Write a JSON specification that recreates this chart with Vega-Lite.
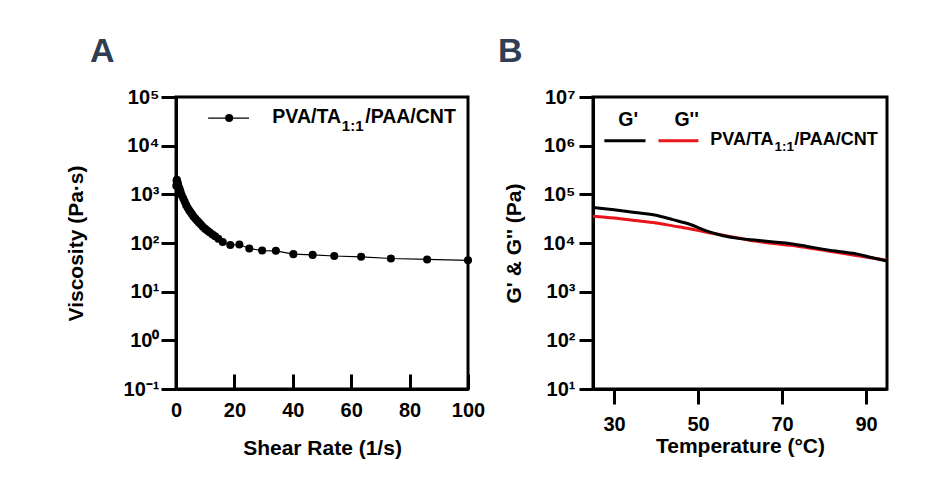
{
  "$schema": "https://vega.github.io/schema/vega-lite/v6.json",
  "background": "white",
  "padding": {"left": 63, "top": 33, "right": 10, "bottom": 10},
  "autosize": {"type": "pad"},
  "spacing": 125,
  "bounds": "flush",
  "config": {
    "font": "Liberation Sans",
    "view": {"stroke": "black", "strokeWidth": 3},
    "axis": {
      "grid": false,
      "domainColor": "black",
      "domainWidth": 3,
      "tickColor": "black",
      "tickWidth": 3,
      "labelFont": "Liberation Sans",
      "labelFontWeight": "bold",
      "labelFontSize": 20,
      "labelColor": "black",
      "titleFont": "Liberation Sans",
      "titleFontWeight": "bold",
      "titleFontSize": 21,
      "titleColor": "black"
    },
    "title": {"font": "Liberation Sans", "fontSize": 34, "fontWeight": "bold", "color": "#2f3e52", "anchor": "start", "frame": "group", "offset": 18}
  },
  "datasets": {
    "viscosity": [
      {"rate": 0.1, "visc": 1500}, {"rate": 0.2, "visc": 1900}, {"rate": 0.3, "visc": 2000}, {"rate": 0.5, "visc": 1800},
      {"rate": 0.7, "visc": 1600}, {"rate": 1.0, "visc": 1400}, {"rate": 1.3, "visc": 1250}, {"rate": 1.6, "visc": 1100},
      {"rate": 2.0, "visc": 950}, {"rate": 2.5, "visc": 820}, {"rate": 3.0, "visc": 700}, {"rate": 3.5, "visc": 600},
      {"rate": 4.0, "visc": 530}, {"rate": 4.5, "visc": 470}, {"rate": 5.0, "visc": 430}, {"rate": 5.5, "visc": 390},
      {"rate": 6.0, "visc": 350}, {"rate": 6.6, "visc": 320}, {"rate": 7.2, "visc": 290}, {"rate": 7.8, "visc": 265},
      {"rate": 8.5, "visc": 240}, {"rate": 9.2, "visc": 215}, {"rate": 10.0, "visc": 195}, {"rate": 10.8, "visc": 178},
      {"rate": 11.6, "visc": 165}, {"rate": 12.5, "visc": 150}, {"rate": 13.4, "visc": 138}, {"rate": 14.5, "visc": 122},
      {"rate": 16.0, "visc": 105}, {"rate": 18.6, "visc": 91}, {"rate": 21.7, "visc": 93}, {"rate": 25.1, "visc": 77},
      {"rate": 29.5, "visc": 70}, {"rate": 34.2, "visc": 69}, {"rate": 40.2, "visc": 59}, {"rate": 46.8, "visc": 57},
      {"rate": 54.2, "visc": 54}, {"rate": 63.4, "visc": 52}, {"rate": 73.6, "visc": 48}, {"rate": 86.0, "visc": 46},
      {"rate": 100, "visc": 44}
    ],
    "moduli": [
      {"temp": 25, "value": 53700, "series": "G'"}, {"temp": 30, "value": 48000, "series": "G'"},
      {"temp": 35, "value": 42500, "series": "G'"}, {"temp": 40, "value": 37200, "series": "G'"},
      {"temp": 44, "value": 30200, "series": "G'"}, {"temp": 48, "value": 24300, "series": "G'"},
      {"temp": 52, "value": 17700, "series": "G'"}, {"temp": 56, "value": 14100, "series": "G'"},
      {"temp": 60, "value": 12300, "series": "G'"}, {"temp": 64, "value": 11400, "series": "G'"},
      {"temp": 68, "value": 10500, "series": "G'"}, {"temp": 72, "value": 9700, "series": "G'"},
      {"temp": 76, "value": 8500, "series": "G'"}, {"temp": 80, "value": 7400, "series": "G'"},
      {"temp": 84, "value": 6600, "series": "G'"}, {"temp": 88, "value": 5900, "series": "G'"},
      {"temp": 91, "value": 5100, "series": "G'"}, {"temp": 95, "value": 4250, "series": "G'"},
      {"temp": 25, "value": 35600, "series": "G''"}, {"temp": 30, "value": 32500, "series": "G''"},
      {"temp": 35, "value": 29000, "series": "G''"}, {"temp": 40, "value": 25800, "series": "G''"},
      {"temp": 44, "value": 22500, "series": "G''"}, {"temp": 48, "value": 19600, "series": "G''"},
      {"temp": 52, "value": 16700, "series": "G''"}, {"temp": 56, "value": 14400, "series": "G''"},
      {"temp": 60, "value": 12500, "series": "G''"}, {"temp": 64, "value": 10800, "series": "G''"},
      {"temp": 68, "value": 9800, "series": "G''"}, {"temp": 72, "value": 8960, "series": "G''"},
      {"temp": 76, "value": 8000, "series": "G''"}, {"temp": 80, "value": 7080, "series": "G''"},
      {"temp": 84, "value": 6250, "series": "G''"}, {"temp": 88, "value": 5480, "series": "G''"},
      {"temp": 91, "value": 5000, "series": "G''"}, {"temp": 95, "value": 4400, "series": "G''"}
    ]
  },
  "hconcat": [
    {
      "title": {"text": "A", "dx": -86},
      "width": 292,
      "height": 292,
      "layer": [
        {
          "data": {"name": "viscosity"},
          "mark": {"type": "line", "color": "black", "strokeWidth": 1.2},
          "encoding": {
            "x": {
              "field": "rate", "type": "quantitative",
              "scale": {"domain": [0, 100], "nice": false, "zero": false},
              "axis": {"title": "Shear Rate (1/s)", "values": [0, 20, 40, 60, 80, 100], "tickSize": -15, "labelPadding": 26, "titlePadding": 17, "labelFlush": false}
            },
            "y": {
              "field": "visc", "type": "quantitative",
              "scale": {"type": "log", "domain": [0.1, 100000], "nice": false},
              "axis": {
                "title": "Viscosity (Pa·s)",
                "values": [0.1, 1, 10, 100, 1000, 10000, 100000],
                "tickSize": 15, "labelPadding": 2, "titlePadding": 37, "labelFlush": false,
                "labelExpr": "'10' + (round(log(datum.value)/LN10) < 0 ? '⁻' : '') + substring('⁰¹²³⁴⁵⁶⁷⁸⁹', abs(round(log(datum.value)/LN10)), abs(round(log(datum.value)/LN10)) + 1)"
              }
            }
          }
        },
        {
          "data": {"name": "viscosity"},
          "mark": {"type": "point", "filled": true, "color": "black", "opacity": 1, "size": 65},
          "encoding": {
            "x": {"field": "rate", "type": "quantitative"},
            "y": {"field": "visc", "type": "quantitative"}
          }
        },
        {
          "data": {"values": [{}]},
          "mark": {"type": "rule", "color": "black", "strokeWidth": 1.2},
          "encoding": {
            "x": {"datum": 11, "type": "quantitative"},
            "x2": {"datum": 25},
            "y": {"datum": 36900, "type": "quantitative"}
          }
        },
        {
          "data": {"values": [{}]},
          "mark": {"type": "point", "filled": true, "color": "black", "opacity": 1, "size": 65},
          "encoding": {
            "x": {"datum": 18.2, "type": "quantitative"},
            "y": {"datum": 36900, "type": "quantitative"}
          }
        },
        {
          "data": {"values": [{}]},
          "mark": {"type": "text", "text": "PVA/TA", "align": "right", "baseline": "middle", "fontSize": 19.5, "fontWeight": "bold", "font": "Liberation Sans", "color": "black"},
          "encoding": {
            "x": {"datum": 56.5, "type": "quantitative"},
            "y": {"datum": 39000, "type": "quantitative"}
          }
        },
        {
          "data": {"values": [{}]},
          "mark": {"type": "text", "text": "1:1", "align": "left", "baseline": "middle", "fontSize": 15, "fontWeight": "bold", "font": "Liberation Sans", "color": "black"},
          "encoding": {
            "x": {"datum": 56.8, "type": "quantitative"},
            "y": {"datum": 25700, "type": "quantitative"}
          }
        },
        {
          "data": {"values": [{}]},
          "mark": {"type": "text", "text": "/PAA/CNT", "align": "left", "baseline": "middle", "fontSize": 19.5, "fontWeight": "bold", "font": "Liberation Sans", "color": "black"},
          "encoding": {
            "x": {"datum": 64.8, "type": "quantitative"},
            "y": {"datum": 39000, "type": "quantitative"}
          }
        }
      ]
    },
    {
      "title": {"text": "B", "dx": -95},
      "width": 294,
      "height": 292,
      "layer": [
        {
          "data": {"name": "moduli"},
          "transform": [{"filter": "datum.series === \"G''\""}],
          "mark": {"type": "line", "color": "#e8151b", "strokeWidth": 3, "interpolate": "monotone"},
          "encoding": {
            "x": {
              "field": "temp", "type": "quantitative",
              "scale": {"domain": [25, 95], "nice": false, "zero": false},
              "axis": {"title": "Temperature (°C)", "values": [30, 50, 70, 90], "tickSize": 15, "labelPadding": 10, "titlePadding": 1, "labelFlush": false}
            },
            "y": {
              "field": "value", "type": "quantitative",
              "scale": {"type": "log", "domain": [10, 10000000], "nice": false},
              "axis": {
                "title": "G' & G'' (Pa)",
                "values": [10, 100, 1000, 10000, 100000, 1000000, 10000000],
                "tickSize": 14, "labelPadding": 4, "titlePadding": 18, "labelFlush": false,
                "labelExpr": "'10' + (round(log(datum.value)/LN10) < 0 ? '⁻' : '') + substring('⁰¹²³⁴⁵⁶⁷⁸⁹', abs(round(log(datum.value)/LN10)), abs(round(log(datum.value)/LN10)) + 1)"
              }
            }
          }
        },
        {
          "data": {"name": "moduli"},
          "transform": [{"filter": "datum.series === \"G'\""}],
          "mark": {"type": "line", "color": "black", "strokeWidth": 3, "interpolate": "monotone"},
          "encoding": {
            "x": {"field": "temp", "type": "quantitative"},
            "y": {"field": "value", "type": "quantitative"}
          }
        },
        {
          "data": {"values": [{}]},
          "mark": {"type": "rule", "color": "black", "strokeWidth": 3},
          "encoding": {
            "x": {"datum": 27.7, "type": "quantitative"},
            "x2": {"datum": 37.5},
            "y": {"datum": 1260000, "type": "quantitative"}
          }
        },
        {
          "data": {"values": [{}]},
          "mark": {"type": "rule", "color": "#e8151b", "strokeWidth": 3},
          "encoding": {
            "x": {"datum": 40.6, "type": "quantitative"},
            "x2": {"datum": 50.1},
            "y": {"datum": 1260000, "type": "quantitative"}
          }
        },
        {
          "data": {"values": [{}]},
          "mark": {"type": "text", "text": "G'", "align": "center", "baseline": "middle", "fontSize": 19.5, "fontWeight": "bold", "font": "Liberation Sans", "color": "black"},
          "encoding": {
            "x": {"datum": 33.4, "type": "quantitative"},
            "y": {"datum": 3400000, "type": "quantitative"}
          }
        },
        {
          "data": {"values": [{}]},
          "mark": {"type": "text", "text": "G''", "align": "center", "baseline": "middle", "fontSize": 19.5, "fontWeight": "bold", "font": "Liberation Sans", "color": "black"},
          "encoding": {
            "x": {"datum": 47.3, "type": "quantitative"},
            "y": {"datum": 3400000, "type": "quantitative"}
          }
        },
        {
          "data": {"values": [{}]},
          "mark": {"type": "text", "text": "PVA/TA", "align": "right", "baseline": "middle", "fontSize": 18, "fontWeight": "bold", "font": "Liberation Sans", "color": "black"},
          "encoding": {
            "x": {"datum": 68.0, "type": "quantitative"},
            "y": {"datum": 1320000, "type": "quantitative"}
          }
        },
        {
          "data": {"values": [{}]},
          "mark": {"type": "text", "text": "1:1", "align": "left", "baseline": "middle", "fontSize": 13.5, "fontWeight": "bold", "font": "Liberation Sans", "color": "black"},
          "encoding": {
            "x": {"datum": 68.2, "type": "quantitative"},
            "y": {"datum": 940000, "type": "quantitative"}
          }
        },
        {
          "data": {"values": [{}]},
          "mark": {"type": "text", "text": "/PAA/CNT", "align": "left", "baseline": "middle", "fontSize": 18, "fontWeight": "bold", "font": "Liberation Sans", "color": "black"},
          "encoding": {
            "x": {"datum": 72.9, "type": "quantitative"},
            "y": {"datum": 1320000, "type": "quantitative"}
          }
        }
      ]
    }
  ]
}
